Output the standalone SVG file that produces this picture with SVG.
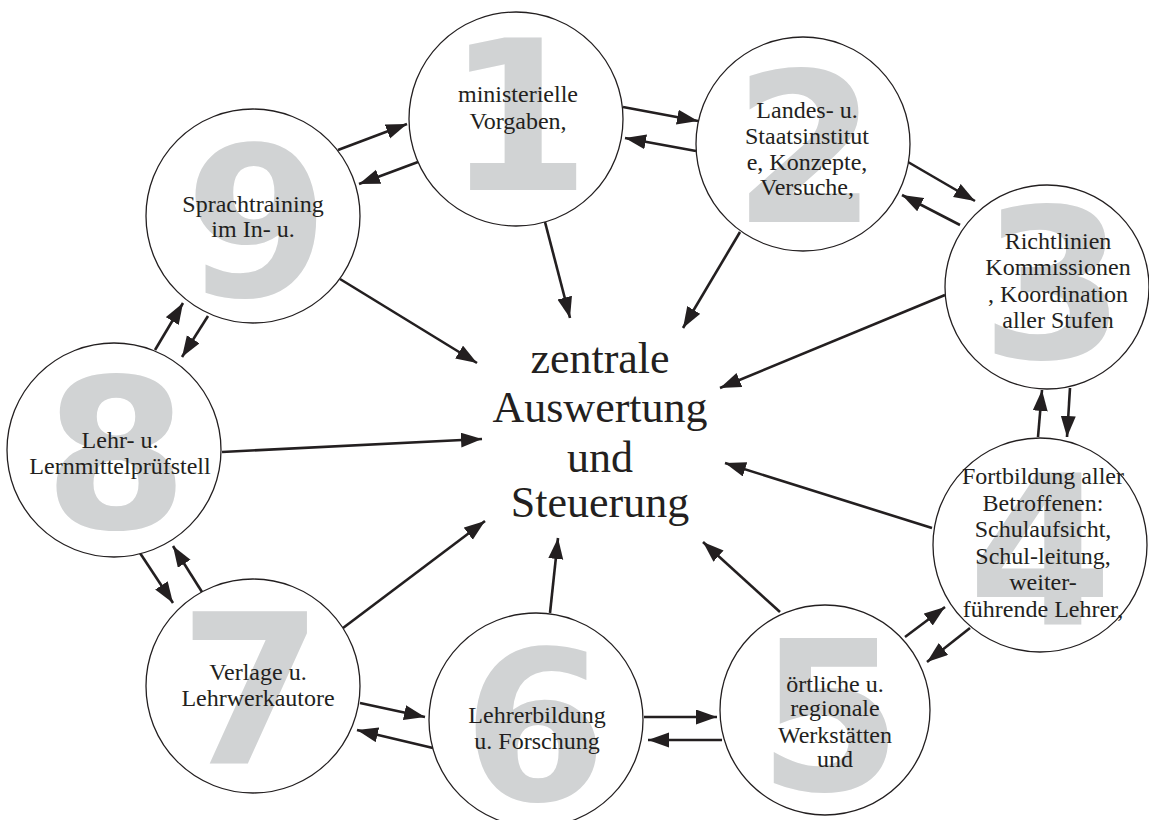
<svg xmlns="http://www.w3.org/2000/svg" width="1149" height="820" viewBox="0 0 1149 820">
<style>
.c{fill:#fff;stroke:#231f20;stroke-width:1.3}
.n{font-family:"DejaVu Sans",sans-serif;font-weight:bold;font-size:208px;fill:#d1d3d4;text-anchor:middle}
.t{font-family:"Liberation Serif",serif;font-size:24px;fill:#231f20;text-anchor:middle}
.m{font-family:"Liberation Serif",serif;font-size:44px;fill:#231f20;text-anchor:middle}
.a{stroke:#231f20;stroke-width:2.6;fill:none;marker-end:url(#ah)}
</style>
<defs>
<marker id="ah" markerUnits="userSpaceOnUse" markerWidth="22" markerHeight="16" refX="21" refY="7.5" orient="auto">
<path d="M0,0 L21,7.5 L0,15 z" fill="#231f20"/>
</marker>
</defs>
<rect width="1149" height="820" fill="#fff"/>
<g id="connectors">
<line class="a" x1="623" y1="107" x2="698" y2="121"/>
<line class="a" x1="696" y1="151" x2="625" y2="138"/>
<line class="a" x1="908" y1="162" x2="975" y2="201"/>
<line class="a" x1="960" y1="225" x2="902" y2="195"/>
<line class="a" x1="1038" y1="437" x2="1042" y2="390"/>
<line class="a" x1="1070" y1="388" x2="1067" y2="437"/>
<line class="a" x1="905" y1="637" x2="945" y2="607"/>
<line class="a" x1="970" y1="628" x2="927" y2="662"/>
<line class="a" x1="644" y1="717" x2="717" y2="717"/>
<line class="a" x1="722" y1="740" x2="648" y2="740"/>
<line class="a" x1="360" y1="703" x2="425" y2="717"/>
<line class="a" x1="433" y1="748" x2="357" y2="730"/>
<line class="a" x1="140" y1="553" x2="173" y2="603"/>
<line class="a" x1="202" y1="592" x2="173" y2="546"/>
<line class="a" x1="155" y1="350" x2="183" y2="303"/>
<line class="a" x1="208" y1="316" x2="182" y2="357"/>
<line class="a" x1="338" y1="150" x2="407" y2="124"/>
<line class="a" x1="418" y1="162" x2="359" y2="184"/>
<line class="a" x1="545" y1="222" x2="570" y2="318"/>
<line class="a" x1="740" y1="232" x2="683" y2="328"/>
<line class="a" x1="945" y1="295" x2="720" y2="388"/>
<line class="a" x1="932" y1="528" x2="725" y2="463"/>
<line class="a" x1="780" y1="612" x2="703" y2="542"/>
<line class="a" x1="550" y1="613" x2="558" y2="538"/>
<line class="a" x1="343" y1="628" x2="485" y2="521"/>
<line class="a" x1="222" y1="452" x2="482" y2="439"/>
<line class="a" x1="340" y1="279" x2="477" y2="363"/>
</g>
<g id="node1">
<circle class="c" cx="516" cy="119" r="107"/>
<text class="n" x="518" y="190">1</text>
<text class="t" x="518" y="102">ministerielle</text>
<text class="t" x="518" y="129">Vorgaben,</text>
</g>
<g id="node2">
<circle class="c" cx="803" cy="144" r="107"/>
<text class="n" x="805" y="222">2</text>
<text class="t" x="807" y="118">Landes- u.</text>
<text class="t" x="807" y="144">Staatsinstitut</text>
<text class="t" x="807" y="170">e, Konzepte,</text>
<text class="t" x="807" y="195">Versuche,</text>
</g>
<g id="node3">
<circle class="c" cx="1047" cy="287" r="102"/>
<text class="n" x="1053" y="358">3</text>
<text class="t" x="1058" y="249">Richtlinien</text>
<text class="t" x="1058" y="275">Kommissionen</text>
<text class="t" x="1058" y="302">, Koordination</text>
<text class="t" x="1058" y="328">aller Stufen</text>
</g>
<g id="node4">
<circle class="c" cx="1040" cy="545" r="107"/>
<text class="n" x="1040" y="625">4</text>
<text class="t" x="1043" y="484">Fortbildung aller</text>
<text class="t" x="1043" y="511">Betroffenen:</text>
<text class="t" x="1043" y="537">Schulaufsicht,</text>
<text class="t" x="1043" y="564">Schul-leitung,</text>
<text class="t" x="1043" y="590">weiter-</text>
<text class="t" x="1043" y="617">führende Lehrer,</text>
</g>
<g id="node5">
<circle class="c" cx="825" cy="710" r="105"/>
<text class="n" x="830" y="790">5</text>
<text class="t" x="835" y="692">örtliche u.</text>
<text class="t" x="835" y="716">regionale</text>
<text class="t" x="835" y="743">Werkstätten</text>
<text class="t" x="835" y="767">und</text>
</g>
<g id="node6">
<circle class="c" cx="536" cy="720" r="107"/>
<text class="n" x="535" y="800">6</text>
<text class="t" x="537" y="723">Lehrerbildung</text>
<text class="t" x="537" y="749">u. Forschung</text>
</g>
<g id="node7">
<circle class="c" cx="253" cy="686" r="107"/>
<text class="n" x="251" y="763">7</text>
<text class="t" x="258" y="680">Verlage u.</text>
<text class="t" x="258" y="706">Lehrwerkautore</text>
</g>
<g id="node8">
<circle class="c" cx="114" cy="450" r="107"/>
<text class="n" x="116" y="528">8</text>
<text class="t" x="120" y="448">Lehr- u.</text>
<text class="t" x="120" y="474">Lernmittelprüfstell</text>
</g>
<g id="node9">
<circle class="c" cx="253" cy="216" r="107"/>
<text class="n" x="257" y="296">9</text>
<text class="t" x="253" y="212">Sprachtraining</text>
<text class="t" x="253" y="237">im In- u.</text>
</g>
<g id="center">
<text class="m" x="600" y="373">zentrale</text>
<text class="m" x="600" y="422">Auswertung</text>
<text class="m" x="600" y="472">und</text>
<text class="m" x="600" y="517">Steuerung</text>
</g>
</svg>
